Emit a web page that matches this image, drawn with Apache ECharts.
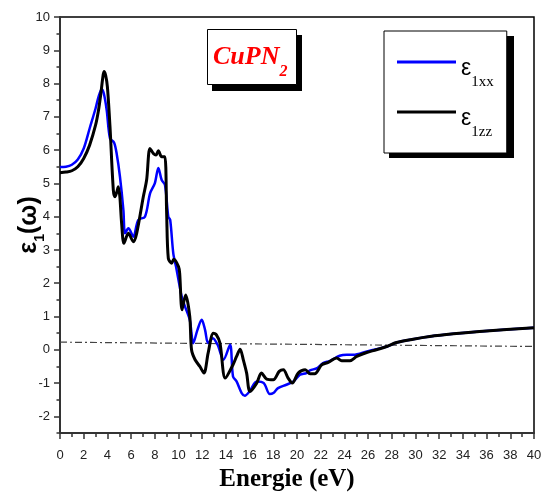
<!DOCTYPE html>
<html><head><meta charset="utf-8">
<script src="https://cdn.jsdelivr.net/npm/echarts@6/dist/echarts.min.js"></script>
<style>html,body{margin:0;padding:0;background:#fff}#c{width:545px;height:493px}</style>
</head><body><div id="c"></div>
<script>
const xTickLabels = [0,2,4,6,8,10,12,14,16,18,20,22,24,26,28,30,32,34,36,38,40];
const yTickLabels = [-2,-1,0,1,2,3,4,5,6,7,8,9,10];
const yMinorTicks = [-2.5,-1.5,-0.5,0.5,1.5,2.5,3.5,4.5,5.5,6.5,7.5,8.5,9.5];

const xxEnergy = [0,0.5,1.0,1.5,2.0,2.5,3.0,3.25,3.52,3.7,3.94,4.22,4.56,4.78,5.06,5.35,5.49,5.77,6.19,6.6,7.17,7.6,8.0,8.3,8.58,8.86,9.14,9.3,9.56,9.79,10.0,10.27,10.55,10.95,11.25,11.6,11.96,12.24,12.5,12.9,13.3,13.8,14.35,14.6,14.9,15.33,15.6,16.0,16.6,17.2,17.7,18.0,18.4,19.1,19.7,20.25,20.8,21.1,21.7,22.2,22.8,23.6,24.2,24.75,25.9,26.7,27.6,28.4,29.8,31.2,33.2,35.4,37.7,40];
const xxValues = [5.49,5.5,5.56,5.72,6.05,6.65,7.25,7.6,7.83,7.7,7.2,6.35,6.23,5.9,5.2,4.2,3.5,3.65,3.4,3.9,4.0,4.7,5.0,5.46,5.1,4.95,4.0,3.9,2.9,2.5,2.1,1.6,1.3,0.9,0.2,0.6,0.9,0.6,0.2,0.35,0.15,-0.3,0.15,-0.8,-0.95,-1.3,-1.38,-1.25,-0.95,-1.0,-1.33,-1.3,-1.15,-1.05,-0.95,-0.75,-0.7,-0.62,-0.55,-0.4,-0.33,-0.18,-0.15,-0.15,-0.05,0.02,0.1,0.22,0.32,0.4,0.48,0.55,0.61,0.66];

const zzEnergy = [0,0.5,1.0,1.5,2.0,2.5,3.0,3.25,3.45,3.6,3.71,3.85,4.0,4.22,4.5,4.64,4.8,4.92,5.05,5.2,5.4,5.77,6.19,6.47,7.03,7.31,7.59,7.88,8.1,8.3,8.58,8.85,9.0,9.14,9.42,9.6,10.0,10.1,10.3,10.6,10.95,11.1,11.4,11.8,12.15,12.5,12.94,13.2,13.5,13.95,14.6,14.9,15.2,15.47,15.75,16.03,16.6,17.0,17.44,18.0,18.5,18.85,19.25,19.6,20.1,20.7,21.1,21.5,22.08,22.64,23.35,23.77,24.47,25.04,25.88,26.7,27.57,28.4,29.8,31.2,33.2,35.4,37.7,40];
const zzValues = [5.32,5.34,5.38,5.5,5.75,6.15,6.75,7.2,7.7,8.15,8.36,8.25,7.9,6.7,4.8,4.6,4.75,4.9,4.6,3.8,3.2,3.5,3.25,3.5,4.6,5.1,6.05,5.9,5.85,5.98,5.8,5.8,4.1,2.75,2.6,2.72,2.5,2.3,1.2,1.65,1.0,0.0,-0.3,-0.5,-0.7,-0.1,0.5,0.45,0.2,-0.85,-0.45,-0.2,0.02,-0.3,-0.7,-1.25,-1.0,-0.7,-0.88,-0.9,-0.65,-0.6,-0.85,-1.0,-0.7,-0.6,-0.72,-0.72,-0.45,-0.38,-0.25,-0.33,-0.33,-0.2,-0.08,0.0,0.1,0.22,0.32,0.4,0.48,0.55,0.61,0.66];

const refEnergy = [0,40];
const refValues = [0.23,0.10];

const seriesNames = ['ε1xx','ε1zz'];
const pairs = (xs, ys) => xs.map((x, i) => [x, ys[i]]);

const chart = echarts.init(document.getElementById('c'), null, {renderer: 'canvas'});
const tickColor = '#333';
chart.setOption({
  animation: false,
  backgroundColor: '#fff',
  graphic: [
    {type: 'rect', z: 1, silent: true, shape: {x: 212, y: 35, width: 90, height: 56}, style: {fill: '#000'}},
    {type: 'rect', z: 1, silent: true, shape: {x: 389, y: 36, width: 125, height: 122}, style: {fill: '#000'}}
  ],
  title: {
    text: '{a|CuPN}{b|2}',
    left: 207, top: 29,
    padding: [13, 9, 5, 6],
    backgroundColor: '#fff', borderColor: '#000', borderWidth: 1,
    textStyle: {
      rich: {
        a: {fontSize: 26, fontFamily: 'Liberation Serif', fontStyle: 'italic', fontWeight: 'bold', color: '#ff0000', lineHeight: 26, verticalAlign: 'top', padding: [2, 0, 0, 0]},
        b: {fontSize: 16, fontFamily: 'Liberation Serif', fontStyle: 'italic', fontWeight: 'bold', color: '#ff0000', lineHeight: 16, verticalAlign: 'top', padding: [22, 0, 0, 0]}
      }
    }
  },
  legend: {
    data: seriesNames.map(n => ({name: n, icon: 'rect'})),
    left: 384, top: 31,
    orient: 'vertical',
    padding: [19.5, 13, 13.5, 13],
    itemWidth: 59, itemHeight: 3, itemGap: 11,
    backgroundColor: '#fff', borderColor: '#000', borderWidth: 1,
    formatter: n => '{e|ε}{s|' + n.slice(1) + '}',
    textStyle: {
      rich: {
        e: {fontSize: 23, fontFamily: 'Liberation Sans', color: '#000', lineHeight: 23, verticalAlign: 'top', padding: [7, 0, 0, 0]},
        s: {fontSize: 15, fontFamily: 'Liberation Serif', color: '#000', lineHeight: 15, verticalAlign: 'top', padding: [24, 0, 0, 0]}
      }
    }
  },
  grid: {left: 60, right: 11, top: 17, bottom: 60, show: true, borderColor: '#000', borderWidth: 1.5, backgroundColor: 'transparent', outerBoundsMode: 'none', containLabel: false},
  xAxis: {
    type: 'value', min: 0, max: 40, interval: 2,
    name: 'Energie (eV)', nameLocation: 'middle', nameGap: 30,
    nameTextStyle: {fontSize: 25, fontWeight: 'bold', fontFamily: 'Liberation Serif', color: '#000', padding: [0, 20, 0, 0]},
    axisLine: {onZero: false, lineStyle: {color: tickColor, width: 2}},
    axisTick: {length: 6, lineStyle: {color: tickColor, width: 1.5}},
    minorTick: {show: true, splitNumber: 2, length: 4, lineStyle: {color: tickColor, width: 1.5}},
    axisLabel: {margin: 16, color: '#222', fontSize: 13, fontFamily: 'Liberation Sans', formatter: v => xTickLabels.includes(v) ? String(v) : ''},
    splitLine: {show: false}, minorSplitLine: {show: false}
  },
  yAxis: [{
    type: 'value', min: -2.5, max: 10, position: 'left',
    name: '{e|ε}{s|1}{e|(ω)}', nameLocation: 'middle', nameGap: 18, nameRotate: 90, nameMoveOverlap: false,
    nameTextStyle: {
      rich: {
        e: {fontSize: 25, fontWeight: 'bold', fontFamily: 'Liberation Sans', color: '#000', lineHeight: 25, verticalAlign: 'top'},
        s: {fontSize: 14, fontWeight: 'bold', fontFamily: 'Liberation Sans', color: '#000', lineHeight: 14, verticalAlign: 'top', padding: [16.5, 0, 0, 0]}
      }
    },
    axisLine: {onZero: false, lineStyle: {color: tickColor, width: 2}},
    axisTick: {customValues: yTickLabels, length: 6, lineStyle: {color: tickColor, width: 1.5}},
    axisLabel: {customValues: yTickLabels, margin: 10, color: '#222', fontSize: 13, fontFamily: 'Liberation Sans'},
    splitLine: {show: false}
  }, {
    type: 'value', min: -2.5, max: 10, position: 'left',
    axisLine: {show: false, onZero: false},
    axisTick: {show: true, customValues: yMinorTicks, length: 3.5, lineStyle: {color: tickColor, width: 1.5}},
    axisLabel: {show: false},
    splitLine: {show: false}
  }],
  series: [
    {name: 'ref', type: 'line', data: pairs(refEnergy, refValues), symbol: 'none', z: 2, silent: true,
     lineStyle: {color: '#444', width: 1.2, type: [7, 3, 2, 3]}},
    {name: seriesNames[0], type: 'line', data: pairs(xxEnergy, xxValues), symbol: 'none', smooth: 0.3, z: 3,
     color: '#0000ff', lineStyle: {color: '#0000ff', width: 2.5}},
    {name: seriesNames[1], type: 'line', data: pairs(zzEnergy, zzValues), symbol: 'none', smooth: 0.3, z: 4,
     color: '#000000', lineStyle: {color: '#000000', width: 3}}
  ]
});
</script>
</body></html>
